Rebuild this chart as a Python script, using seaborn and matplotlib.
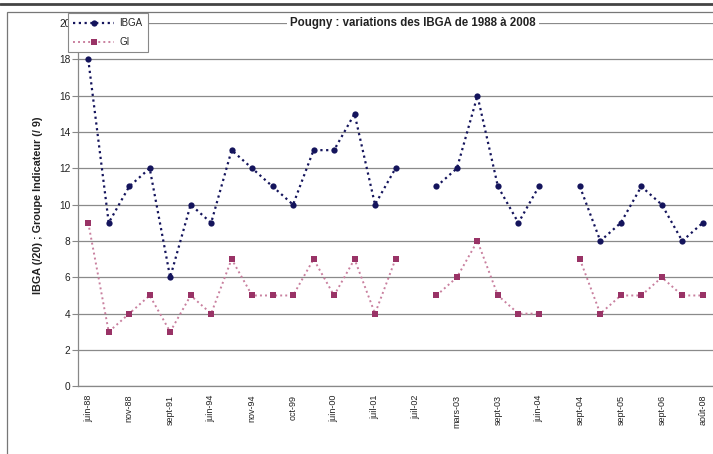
# Pougny IBGA / GI chart
import numpy as np
import pandas as pd
import matplotlib
matplotlib.use("Agg")
import matplotlib.pyplot as plt
import seaborn as sns
from matplotlib.lines import Line2D
from matplotlib.patches import Rectangle

# ====================================
# DATA
# ====================================
n_samples = 31
tick_labels = ["juin-88", "nov-88", "sept-91", "juin-94", "nov-94", "oct-99", "juin-00",
               "juil-01", "juil-02", "mars-03", "sept-03", "juin-04", "sept-04", "sept-05",
               "sept-06", "août-08"]
ibga = [18, 9, 11, 12, 6, 10, 9, 13, 12, 11, 10, 13, 13, 15, 10, 12, np.nan,
        11, 12, 16, 11, 9, 11, np.nan, 11, 8, 9, 11, 10, 8, 9]
gi = [9, 3, 4, 5, 3, 5, 4, 7, 5, 5, 5, 7, 5, 7, 4, 7, np.nan,
      5, 6, 8, 5, 4, 4, np.nan, 7, 4, 5, 5, 6, 5, 5]

title = "Pougny : variations des IBGA de 1988 à 2008"
ylabel = "IBGA (/20) ; Groupe Indicateur (/ 9)"


def to_segments(values, name):
    # split the series at missing samples so the line shows gaps
    df = pd.DataFrame({"pos": np.arange(len(values)), "val": values})
    df["seg"] = df["val"].isna().cumsum()
    df["series"] = name
    return df.dropna()


df_ibga = to_segments(ibga, "IBGA")
df_gi = to_segments(gi, "GI")

# ====================================
# PLOT
# ====================================
sns.set_style("white")
plt.rcParams["font.family"] = ["Liberation Sans", "DejaVu Sans"]

W, H = 713, 454
fig = plt.figure(figsize=(W / 100, H / 100), dpi=100)
fig.patch.set_facecolor("white")

ax = fig.add_axes([78 / W, (H - 386.3) / H, (W - 78) / W, (386.3 - 23) / H])

navy = "#14145c"
plum = "#993366"
plum_line = "#c9809f"
dots = (0, (1, 1.6))

sns.lineplot(data=df_ibga, x="pos", y="val", units="seg", estimator=None,
             color=navy, linestyle=dots, linewidth=1.6,
             marker="o", markersize=4.5, markeredgewidth=0,
             ax=ax, legend=False, zorder=4)
sns.lineplot(data=df_gi, x="pos", y="val", units="seg", estimator=None,
             color=plum_line, linestyle=dots, linewidth=1.4,
             marker="s", markersize=4.2, markerfacecolor=plum, markeredgewidth=0,
             ax=ax, legend=False, zorder=4)

ax.set_xlim(-0.5, n_samples - 0.5 - 0.3)
ax.set_ylim(0, 20)
ax.set_yticks(np.arange(0, 21, 2))
ax.set_xticks(np.arange(0, n_samples, 2))
ax.set_xticklabels(tick_labels, rotation=90)
ax.set_xticks(np.arange(-0.5, n_samples, 1), minor=True)

ax.tick_params(axis="x", which="major", length=0, labelsize=6.5, pad=6, colors="#222222")
ax.tick_params(axis="x", which="minor", length=4, direction="inout", color="#888888")
ax.tick_params(axis="y", length=4, direction="out", left=True, labelsize=7.3, pad=1.5,
               color="#888888", labelcolor="#222222")

ax.grid(True, axis="y", color="#8a8a8a", linewidth=0.9)
ax.set_axisbelow(True)
ax.set_xlabel("")
ax.set_ylabel("")
for side in ["top", "right"]:
    ax.spines[side].set_visible(False)
for side in ["left", "bottom"]:
    ax.spines[side].set_color("#888888")
    ax.spines[side].set_linewidth(0.9)

# y label and title
fig.text(38 / W, 1 - 205 / H, ylabel, rotation=90, ha="center", va="center",
         fontsize=7.8, fontweight="bold", color="#222222")
fig.text(413 / W, 1 - 23 / H, title, ha="center", va="center", fontsize=8.3,
         fontweight="bold", color="#222222",
         bbox=dict(facecolor="white", edgecolor="none", pad=2.5))

# legend
handles = [
    Line2D([], [], color=navy, linestyle=dots, linewidth=1.6,
           marker="o", markersize=4.5, markeredgewidth=0, label="IBGA"),
    Line2D([], [], color=plum_line, linestyle=dots, linewidth=1.4,
           marker="s", markersize=4.2, markerfacecolor=plum, markeredgewidth=0, label="GI"),
]
leg = fig.legend(handles=handles, loc="upper left", bbox_to_anchor=(68 / W, 1 - 13 / H),
                 fontsize=7, frameon=True, fancybox=False, handlelength=4.2,
                 handletextpad=0.5, borderpad=0.55, labelspacing=0.9,
                 borderaxespad=0, framealpha=1)
leg.set_zorder(10)
leg.get_frame().set_edgecolor("#888888")
leg.get_frame().set_linewidth(0.8)

# chart area border and top scan line
fig.patches.append(Rectangle((7 / W, -0.05), 1.0, 1 - 12 / H + 0.05, transform=fig.transFigure,
                             fill=False, edgecolor="#777777", linewidth=0.9))
fig.lines.append(Line2D([0, 1], [1 - 4 / H, 1 - 4 / H], transform=fig.transFigure,
                        color="#444444", linewidth=2))

fig.savefig("out.png", dpi=100)
